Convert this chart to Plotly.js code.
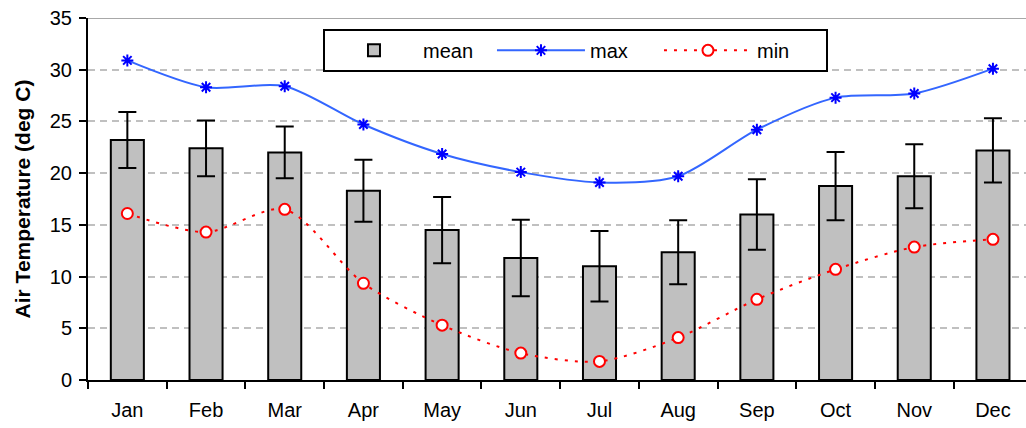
<!DOCTYPE html>
<html>
<head>
<meta charset="utf-8">
<script src="https://cdn.plot.ly/plotly-3.0.1.min.js"></script>
<style>html,body{margin:0;padding:0;background:#fff;}#chart{width:1026px;height:428px;}</style>
</head>
<body>
<div id="chart"></div>
<script>
var months = ["Jan","Feb","Mar","Apr","May","Jun","Jul","Aug","Sep","Oct","Nov","Dec"];
var meanVals = [23.2, 22.4, 22.0, 18.3, 14.5, 11.8, 11.0, 12.35, 16.0, 18.75, 19.7, 22.2];
var meanErr  = [2.7, 2.7, 2.5, 3.0, 3.2, 3.7, 3.4, 3.1, 3.4, 3.3, 3.1, 3.1];
var maxVals  = [30.9, 28.3, 28.4, 24.7, 21.85, 20.1, 19.1, 19.7, 24.2, 27.3, 27.7, 30.1];
var minVals  = [16.1, 14.3, 16.5, 9.35, 5.3, 2.6, 1.8, 4.1, 7.8, 10.7, 12.85, 13.6];
var yTitle = "Air Temperature (deg C)";

var traces = [
  {
    type: "bar", name: "mean", x: months, y: meanVals, width: 0.42,
    marker: {color: "#c0c0c0", line: {color: "#000000", width: 2}},
    error_y: {type: "data", array: meanErr, visible: true, color: "#000000", thickness: 2, width: 9}
  },
  {
    type: "scatter", mode: "lines+markers", name: "max", x: months, y: maxVals,
    line: {color: "#3366ff", width: 2, shape: "spline", smoothing: 0.8},
    marker: {symbol: "asterisk-open", size: 10, color: "#0000ff", line: {color: "#0000ff", width: 2}}
  },
  {
    type: "scatter", mode: "lines+markers", name: "min", x: months, y: minVals,
    line: {color: "#ff0000", width: 2, dash: "3px,7px", shape: "spline", smoothing: 0.8},
    marker: {symbol: "circle", size: 11, color: "#ffffff", line: {color: "#ff0000", width: 2}}
  }
];

var layout = {
  width: 1026, height: 428,
  margin: {l: 88, r: 0, t: 18, b: 48},
  paper_bgcolor: "#ffffff", plot_bgcolor: "#ffffff",
  font: {family: "Liberation Sans, Arial, sans-serif", size: 20, color: "#000000"},
  showlegend: true,
  legend: {
    orientation: "h", x: 0.2505, y: 0.97, xanchor: "left", yanchor: "top",
    bgcolor: "#ffffff", bordercolor: "#000000", borderwidth: 2,
    itemwidth: 88, entrywidth: 64, entrywidthmode: "pixels",
    font: {size: 20, color: "#000000"}, traceorder: "normal"
  },
  xaxis: {
    type: "category", range: [-0.5, 11.42],
    showline: true, linecolor: "#000000", linewidth: 2,
    ticks: "outside", tickson: "boundaries", ticklen: 7, tickwidth: 2, tickcolor: "#000000",
    ticklabelstandoff: 11,
    showgrid: false, zeroline: false,
    tickfont: {size: 20}
  },
  yaxis: {
    range: [0, 35], dtick: 5, tick0: 0,
    showline: true, linecolor: "#000000", linewidth: 2,
    ticks: "outside", ticklen: 7, tickwidth: 2, tickcolor: "#000000",
    ticklabelstandoff: 3,
    showgrid: true, gridcolor: "#c0c0c0", gridwidth: 2, griddash: "7px,5px",
    zeroline: false,
    tickfont: {size: 20},
    title: {text: yTitle, font: {size: 21, family: "Liberation Sans, Arial, sans-serif", weight: "bold"}, standoff: 13}
  },
  shapes: [
    {type: "line", xref: "paper", yref: "y", x0: 0, x1: 1, y0: 35, y1: 35,
     line: {color: "#a8a8a8", width: 2}, layer: "below"}
  ]
};

Plotly.newPlot("chart", traces, layout, {displayModeBar: false, staticPlot: true});
</script>
</body>
</html>
